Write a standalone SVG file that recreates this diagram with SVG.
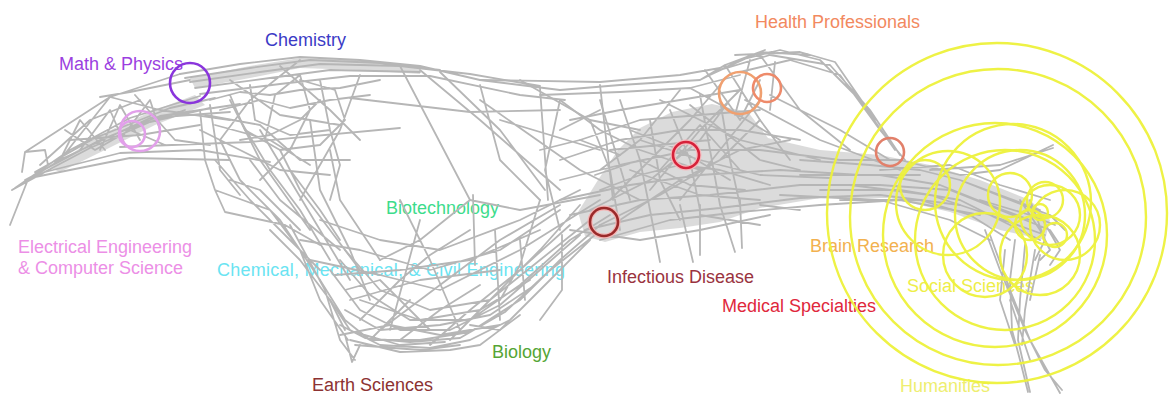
<svg xmlns="http://www.w3.org/2000/svg" width="1173" height="396" viewBox="0 0 1173 396">
  <style>
    text { font-family: "Liberation Sans", Arial, sans-serif; font-size: 18px; }
    .e { fill: none; stroke: #b6b6b6; stroke-width: 1.8; stroke-linejoin: round; stroke-linecap: round; }
    .d { fill: #bdbdbd; stroke: none; opacity: 0.55; }
    .c { fill: none; stroke-width: 2.6; }
    .y { fill: none; stroke: #eef23c; stroke-width: 2.4; opacity: 0.95; }
  </style>
  <rect width="1173" height="396" fill="#ffffff"/>

  <!-- field labels (drawn under the mesh) -->
  <g id="labels">
    <text id="lbl-math" x="59" y="70" fill="#9b3fe0">Math &amp; Physics</text>
    <text id="lbl-chem" x="265" y="46" fill="#3b3bc6">Chemistry</text>
    <text id="lbl-health" x="755" y="28" fill="#f2895f">Health Professionals</text>
    <text id="lbl-eecs" fill="#ec8fe6"><tspan x="18" y="253">Electrical Engineering</tspan><tspan x="18" y="274">&amp; Computer Science</tspan></text>
    <text id="lbl-eng" x="217" y="276" fill="#6ae4f2" textLength="348">Chemical, Mechanical, &amp; Civil Engineering</text>
    <text id="lbl-biotech" x="386" y="214" fill="#3ddc8c">Biotechnology</text>
    <text id="lbl-infect" x="607" y="283" fill="#9a3340">Infectious Disease</text>
    <text id="lbl-med" x="722" y="312" fill="#e0283c">Medical Specialties</text>
    <text id="lbl-bio" x="492" y="358" fill="#55a535">Biology</text>
    <text id="lbl-earth" x="312" y="391" fill="#8c3232">Earth Sciences</text>
    <text id="lbl-brain" x="810" y="252" fill="#f2b14f">Brain Research</text>
    <text id="lbl-social" x="907" y="292" fill="#eeee48">Social Sciences</text>
    <text id="lbl-hum" x="900" y="392" fill="#eeee70">Humanities</text>
  </g>

  <!-- co-citation mesh -->
  <g id="mesh">
    <!-- dense bundles -->
    <path class="d" d="M50,168 L100,135 L150,112 L195,95 L205,105 L155,125 L105,150 L60,172 Z"/>
    <path class="d" d="M190,78 L250,66 L300,58 L360,60 L420,66 L420,74 L360,70 L300,68 L250,78 L195,88 Z"/>
    <path class="d" d="M578,212 L598,180 L618,150 L640,128 L672,112 L712,104 L748,112 L768,138 L820,150 L880,155 L930,165 L980,180 L1030,200 L1050,220 L1045,240 L1000,230 L950,212 L890,198 L820,198 L760,208 L720,222 L680,228 L640,232 L605,242 L585,236 Z"/>

    <!-- head, left -->
    <path class="e" d="M10,225 L27,182 M12,190 L60,160 L110,97 L180,74 M15,188 L70,150 L130,118 L200,96 M20,185 L90,148 L150,122 L210,108 M25,180 L100,140 L160,116 L240,104 M12,190 L45,172 L120,153 L200,150 L270,162 M30,178 L130,158 L230,160 M22,172 L25,152 L45,150 L48,165 M25,152 L110,97 M60,160 L80,120 L105,150 M80,150 L110,110 L125,145 M100,150 L120,105 L140,140 M120,140 L150,100 L160,130 M135,95 L175,140 L210,145 M110,97 L160,110 L230,120 M100,97 L130,92 L190,80 M120,147 L250,142 L400,128 M40,165 L90,120 L140,100 M70,140 L140,135 L200,125 M35,172 L95,138 L170,108 L215,98 M55,162 L120,132 L185,110 M85,148 L150,118 L230,112 M65,130 L95,150 L130,130 L165,145"/>

    <!-- top bundle and chemistry -->
    <path class="e" d="M180,74 L240,64 L300,57 L360,60 L420,66 L480,80 L560,90 M185,78 L250,68 L310,60 L380,63 L440,70 M190,82 L260,72 L320,64 L400,66 L470,74 L540,86 M195,88 L270,78 L330,70 L420,72 M200,94 L280,84 L350,76 L430,76 L520,95 L565,100 M210,100 L240,92 L270,95 L300,90 L340,88 L380,80 M220,110 L260,100 L290,108 L330,100 L370,95 M230,95 L245,130 L280,150 L320,145 L345,120 L335,90 L300,80 M250,85 L255,120 L290,135 L330,130 M205,115 L260,125 L300,160 L350,160 M215,125 L270,140 L310,165 M200,130 L240,150 L280,170 L330,175 M240,140 L270,135 L300,120 L320,100 M265,140 L275,95 L300,75 M300,75 L310,110 L290,150 L260,180 M320,80 L330,130 L340,165 L330,200 M360,75 L340,130 L300,200 M300,60 L250,100 L220,140 M280,66 L330,110 L360,140 M230,80 L280,115 L340,125"/>

    <!-- long links across the centre -->
    <path class="e" d="M400,66 L470,200 M420,70 L480,120 L560,190 M440,72 L500,130 L545,190 M350,98 L470,112 L560,110 M480,85 L500,160 L540,200 M540,88 L548,200 M560,100 L545,170 L560,230 M600,85 L613,200 M473,195 L475,265 M470,200 L520,210 L600,195 M480,100 L580,170 L640,200 M500,120 L600,150 M520,80 L590,120 L640,130 M540,150 L580,140 L620,155 M560,130 L600,110"/>

    <!-- engineering swoop -->
    <path class="e" d="M200,110 L205,160 L215,190 L225,212 M210,105 L220,170 L240,195 M225,212 L285,225 L320,245 M215,190 L270,210 L300,250 M230,180 L260,190 L300,230 M215,160 L250,200 L290,240 L320,270 M220,140 L240,180 L280,220 L320,280 M240,120 L270,170 L300,210 L330,260 M260,130 L290,180 L320,230 L350,280 M230,100 L260,160 L310,230 M250,160 L280,200 L340,250 M280,150 L300,190 L330,230 L360,270 M290,170 L320,210 L340,240 M310,120 L320,190 L350,250 L370,300 M330,150 L340,200 L380,260 M270,230 L300,260 L330,300 L345,330 M300,250 L320,300 L348,340 M290,225 L325,290 L340,340 L355,360 M345,335 L352,362 L360,345"/>

    <!-- biology / earth sciences band -->
    <path class="e" d="M330,300 L350,330 L380,345 L430,348 L470,340 L510,320 L550,280 L590,240 M320,280 L345,320 L370,340 L420,340 L470,332 L520,300 L560,260 L600,225 M330,270 L360,310 L400,330 L450,330 L500,305 L540,270 L580,235 M340,260 L370,295 L410,320 L470,320 L520,285 L570,240 L610,215 M345,250 L380,290 L430,310 L490,300 L540,260 L590,220 M350,340 L400,352 L450,350 L480,345 L520,315 M355,345 L420,350 L460,345 M340,335 L390,325 L440,335 L500,325 M360,300 L420,320 L480,310 L530,280 M310,260 L380,275 L440,290 L520,250 L600,200 M300,240 L360,250 L430,270 L500,250 L560,210 M320,220 L380,240 L440,250 L520,220 L580,190 M335,275 L400,270 L470,260 L540,230 M350,300 L420,280 L500,270 M380,330 L420,300 L460,270 L500,240 L560,205 M400,340 L440,310 L480,285 M430,345 L470,310 L520,270 L570,225 M450,340 L500,290 L540,250 L580,205 M370,340 L410,300 M360,320 L400,280 L430,255 L470,230 M380,260 L420,240 L470,200 M400,200 L430,260 L460,330 M420,220 L390,330 M345,290 L380,280 L430,330 M495,230 L500,320 M520,240 L525,300 M540,200 L520,265 L500,300 M562,235 L562,290 L540,320 M340,325 L365,338 L410,342 L460,338 L505,312 L548,272 L595,235 M345,310 L380,330 L440,325 L490,315 L535,285 M355,332 L400,345 L445,342 M470,325 L500,330 L530,300"/>

    <!-- medical / health cluster -->
    <path class="e" d="M560,90 L620,85 L700,80 L725,65 L765,50 M480,80 L600,82 L680,75 L720,68 M540,95 L620,92 L690,88 L740,75 M700,80 L740,60 L780,50 L820,60 L860,100 L895,150 M720,70 L770,55 L830,65 L870,110 L900,155 M740,72 L790,60 L840,75 L880,130 L905,160 M725,65 L760,120 L790,160 M760,55 L800,110 L850,150 M770,95 L840,130 L890,160 M745,100 L820,140 L900,170 M690,88 L730,110 L780,140 M705,70 L740,120 L760,80 M750,60 L735,115 M775,62 L770,110 M735,55 L800,52 L835,62 L875,120 M710,75 L760,52 L810,55"/>
    <path class="e" d="M560,100 L600,130 L640,150 L700,170 M570,120 L620,110 L680,100 L740,90 M580,140 L640,120 L700,115 L760,110 M560,160 L620,140 L680,130 L740,130 L800,140 M560,180 L620,165 L690,150 L760,150 L840,160 L900,160 M560,200 L630,185 L700,175 L780,170 L860,175 L920,175 M570,215 L640,200 L710,195 L800,185 L880,185 L950,190 M585,230 L650,215 L720,208 L800,198 L880,195 L960,205 M600,240 L670,220 L740,212 L820,205 L900,200 L980,215 M590,210 L650,180 L700,140 L730,100 M600,225 L660,195 L720,160 L760,120 M610,200 L650,160 L690,120 L720,85 M620,220 L680,180 L740,150 L790,140 M630,170 L700,195 L760,200 M640,140 L700,160 L760,175 L830,178 M650,120 L660,180 L680,220 M670,110 L690,160 L700,210 M700,95 L710,150 L720,205 M720,100 L730,160 L740,205 M620,100 L640,160 L650,210 M590,120 L610,170 L620,230 M600,100 L630,200 M680,90 L640,140 L600,170 M740,90 L700,130 L650,190 M760,100 L720,150 L680,200 M690,105 L760,160 L800,170 M660,100 L740,140 L820,160 M570,230 L640,240 L700,230 L770,215 M650,210 L660,262 M680,205 L693,262 M700,205 L700,255 M720,205 L735,252 M740,200 L742,248 M700,215 L760,225 M760,205 L800,210 M600,190 L640,175 L680,165 L720,170 L770,185 M610,150 L660,145 L710,140 M630,130 L680,150 L730,180 M660,170 L700,125 L740,170 M595,175 L640,160 L690,185 L745,190"/>

    <!-- social sciences and humanities -->
    <path class="e" d="M800,160 L870,165 L920,170 L960,180 L1000,195 L1040,210 M800,175 L880,175 L940,185 L990,205 L1030,220 M820,190 L900,190 L960,200 L1010,225 L1040,240 M840,200 L920,200 L970,215 L1010,240 M780,195 L880,200 L950,220 L990,240 M850,185 L930,195 L990,215 L1045,235 M880,170 L950,165 L1000,185 L1050,200 M900,160 L960,175 L1000,170 L1053,145 M930,170 L1000,165 L1053,148 M950,190 L1000,210 L1050,230 L1060,245 M960,180 L1010,200 L1050,215 L1065,230 M980,200 L1030,215 L1055,225 M1020,200 L1040,230 L1050,250 L1040,260 M1030,200 L1045,240 L1035,260 M1040,215 L1060,250 L1050,265"/>
    <path class="e" d="M1015,240 L1010,280 L1012,330 L1020,360 L1028,392 M1025,245 L1020,300 L1018,340 L1030,392 M1035,250 L1025,310 L1022,345 M990,235 L1010,290 L1030,340 L1060,393 M985,230 L1000,270 L1025,330 L1045,370 L1062,390 M1005,250 L1000,300 L1015,345 M1040,255 L1030,300 M1010,300 L1030,360"/>
  </g>

  <!-- social sciences and humanities rings -->
  <g id="ring-social" class="y">
    <circle cx="997" cy="213" r="170"/>
    <circle cx="998" cy="217" r="148"/>
    <circle cx="995" cy="235" r="112"/>
    <circle cx="1013" cy="202" r="78"/>
    <circle cx="1005" cy="240" r="90"/>
    <circle cx="1020" cy="215" r="65"/>
    <circle cx="948" cy="203" r="52"/>
    <circle cx="925" cy="185" r="25"/>
    <circle cx="985" cy="255" r="42"/>
    <circle cx="1040" cy="255" r="40"/>
    <circle cx="1050" cy="215" r="30"/>
    <circle cx="1045" cy="200" r="18"/>
    <circle cx="1030" cy="225" r="15"/>
    <circle cx="1055" cy="235" r="12"/>
    <circle cx="1040" cy="212" r="8"/>
    <circle cx="1010" cy="195" r="22"/>
    <circle cx="1065" cy="225" r="35"/>
  </g>

  <!-- field hubs -->
  <g id="hub-math"><circle class="c" cx="190" cy="83" r="20" stroke="#8a35dc"/></g>
  <g id="hub-eecs"><circle class="c" cx="140" cy="131" r="20" stroke="#e2a0ea"/><circle class="c" cx="132" cy="134" r="13" stroke="#e2a0ea"/></g>
  <g id="hub-infect"><circle cx="604" cy="222" r="14" fill="none" stroke="#f4b4b4" stroke-width="5"/><circle class="c" cx="604" cy="222" r="14" stroke="#9a2a2a"/></g>
  <g id="hub-med"><circle cx="686" cy="155" r="13" fill="none" stroke="#f6b8bc" stroke-width="5"/><circle class="c" cx="686" cy="155" r="13" stroke="#d6223a"/></g>
  <g id="hub-health"><circle class="c" cx="740" cy="93" r="21" stroke="#f0a070"/><circle class="c" cx="767" cy="88" r="14" stroke="#ee8a6a"/></g>
  <g id="hub-brain"><circle class="c" cx="890" cy="152" r="14" stroke="#e2806a"/></g>
</svg>
